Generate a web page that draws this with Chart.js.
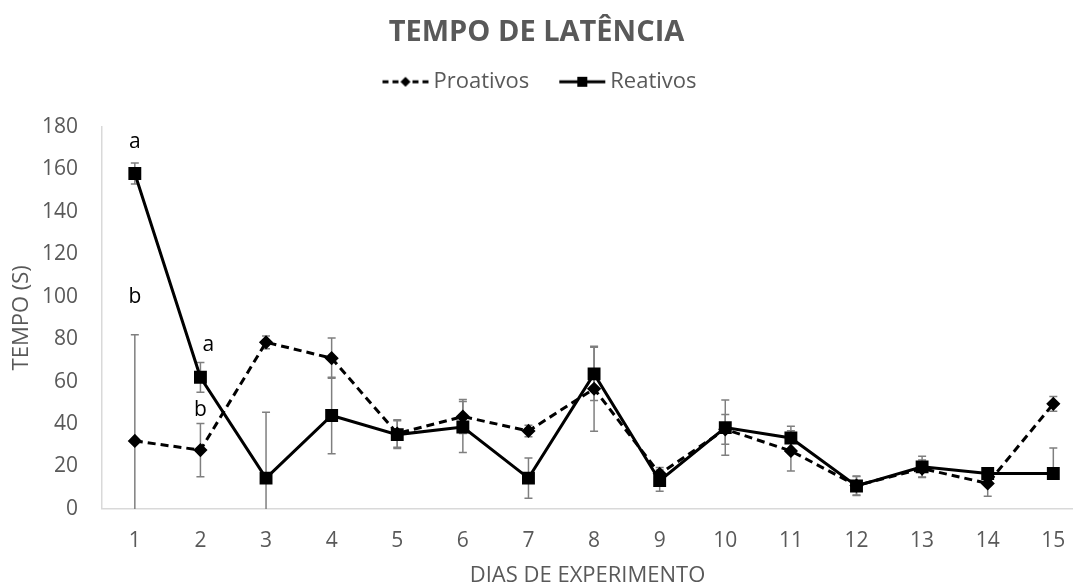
<!DOCTYPE html>
<html lang="pt">
<head>
    <meta charset="UTF-8">
    <title>Tempo de latência</title>
    <script src="https://cdn.jsdelivr.net/npm/chart.js@4.4.1/dist/chart.umd.min.js"></script>
    <style>
        html, body { margin: 0; padding: 0; background: #fff; }
        #wrap { width: 1073px; height: 587px; }
    </style>
</head>
<body>
<div id="wrap"><canvas id="latencia"></canvas></div>
<script>
    // dados
    var dias = [1, 2, 3, 4, 5, 6, 7, 8, 9, 10, 11, 12, 13, 14, 15];
    var proativos = [32, 27.7, 78.5, 71, 35.5, 43.5, 36.7, 56.6, 16.5, 37.5, 27.3, 11, 19, 12, 49.5];
    var proativosErr = [50, 12.5, 3, 9.5, 6.5, 8, 2.7, 20, 3, 7, 9.5, 4.5, 4, 6, 3.5];
    var reativos = [158, 62, 14.5, 44, 35, 38.6, 14.5, 63.6, 13.3, 38.3, 33.4, 10.8, 19.8, 16.7, 16.7];
    var reativosErrUp = [5, 7, 31, 18, 6.5, 12, 9.5, 12.5, 5, 13, 5.5, 4.5, 5, 2, 12];
    var reativosErrDown = [5, 7, 31, 18, 6.5, 12, 9.5, 12.5, 5, 13, 5.5, 4.5, 5, 2, 0];
    var letras = [
        {t: 'a', x: 1, y: 173},
        {t: 'b', x: 1, y: 100},
        {t: 'a', x: 2.12, y: 77},
        {t: 'b', x: 2.0, y: 46.5}
    ];

    var cinza = '#595959';
    var fonte = "'Open Sans', sans-serif";

    function pontos(vals) {
        return vals.map(function (v, i) { return {x: dias[i], y: v}; });
    }

    // ícone da legenda: linha + marcador, deslocado 7px para a direita
    function iconeLegenda(tracejado, forma) {
        var c = document.createElement('canvas');
        c.width = 62; c.height = 16;
        var g = c.getContext('2d');
        g.translate(14, 0);
        g.strokeStyle = '#000';
        g.lineWidth = 3;
        if (tracejado) g.setLineDash([6, 4]);
        g.beginPath(); g.moveTo(0, 8); g.lineTo(46, 8); g.stroke();
        g.fillStyle = '#000';
        if (forma == 'diamond') {
            g.beginPath(); g.moveTo(23, 3); g.lineTo(28, 8); g.lineTo(23, 13); g.lineTo(18, 8); g.closePath(); g.fill();
        } else {
            g.fillRect(18, 3, 10, 10);
        }
        return c;
    }
    var icones = [iconeLegenda(true, 'diamond'), iconeLegenda(false, 'square')];

    // espaço extra abaixo da legenda
    var espacoLegenda = {
        id: 'espacoLegenda',
        beforeInit: function (chart) {
            var orig = chart.legend.fit;
            chart.legend.fit = function () {
                orig.call(this);
                this.height += 24;
            };
        }
    };

    var errosPlugin = {
        id: 'erros',
        beforeDatasetsDraw: function (chart) {
            var ctx = chart.ctx, xs = chart.scales.x, ys = chart.scales.y, a = chart.chartArea;
            var series = [
                {v: proativos, up: proativosErr, down: proativosErr},
                {v: reativos, up: reativosErrUp, down: reativosErrDown}
            ];
            ctx.save();
            ctx.beginPath();
            ctx.rect(a.left, a.top - 20, a.right - a.left, a.bottom - a.top + 20);
            ctx.clip();
            ctx.strokeStyle = '#7f7f7f';
            ctx.lineWidth = 1.5;
            series.forEach(function (s) {
                s.v.forEach(function (v, i) {
                    var px = xs.getPixelForValue(dias[i]);
                    var top = ys.getPixelForValue(v + s.up[i]);
                    var bot = ys.getPixelForValue(v - s.down[i]);
                    ctx.beginPath();
                    ctx.moveTo(px, top); ctx.lineTo(px, bot);
                    if (s.up[i] > 0) { ctx.moveTo(px - 4, top); ctx.lineTo(px + 4, top); }
                    if (s.down[i] > 0) { ctx.moveTo(px - 4, bot); ctx.lineTo(px + 4, bot); }
                    ctx.stroke();
                });
            });
            ctx.restore();
        },
        afterDatasetsDraw: function (chart) {
            var ctx = chart.ctx, xs = chart.scales.x, ys = chart.scales.y;
            ctx.save();
            ctx.fillStyle = '#000';
            ctx.font = '21px ' + fonte;
            ctx.textAlign = 'center';
            ctx.textBaseline = 'middle';
            letras.forEach(function (l) {
                ctx.fillText(l.t, xs.getPixelForValue(l.x), ys.getPixelForValue(l.y));
            });
            ctx.restore();
        }
    };

    new Chart(document.getElementById('latencia'), {
        type: 'line',
        data: {
            datasets: [{
                label: 'Proativos',
                data: pontos(proativos),
                borderColor: '#000',
                backgroundColor: '#000',
                borderWidth: 3,
                borderDash: [8, 5],
                pointStyle: 'rectRot',
                pointRadius: 5,
                pointHoverRadius: 5,
                tension: 0
            }, {
                label: 'Reativos',
                data: pontos(reativos),
                borderColor: '#000',
                backgroundColor: '#000',
                borderWidth: 3,
                pointStyle: 'rect',
                pointRadius: 7,
                pointHoverRadius: 7,
                tension: 0
            }]
        },
        options: {
            responsive: true,
            maintainAspectRatio: false,
            animation: false,
            layout: { autoPadding: false, padding: {left: 0, right: 0, top: 0, bottom: 0} },
            plugins: {
                title: {
                    display: true,
                    text: 'TEMPO DE LATÊNCIA',
                    color: cinza,
                    font: {family: fonte, size: 29, weight: 'bold'},
                    padding: {top: 15, bottom: -3}
                },
                legend: {
                    position: 'top',
                    labels: {
                        usePointStyle: true,
                        pointStyleWidth: 46,
                        color: cinza,
                        font: {family: fonte, size: 22},
                        padding: 24,
                        generateLabels: function (chart) {
                            var items = Chart.defaults.plugins.legend.labels.generateLabels(chart);
                            items.forEach(function (it, i) { it.pointStyle = icones[i]; });
                            return items;
                        }
                    }
                },
                tooltip: {enabled: false}
            },
            scales: {
                x: {
                    type: 'linear',
                    min: 0.5,
                    max: 15.3,
                    afterBuildTicks: function (axis) {
                        axis.ticks = dias.map(function (d) { return {value: d}; });
                    },
                    grid: {display: false, drawTicks: false},
                    border: {display: true, color: '#d9d9d9', width: 1.5},
                    ticks: {color: cinza, font: {family: fonte, size: 21, lineHeight: 3.1}, padding: 0},
                    title: {display: true, text: 'DIAS DE EXPERIMENTO', color: cinza, font: {family: fonte, size: 22, lineHeight: 1}, padding: {top: -9, bottom: 0}}
                },
                y: {
                    min: 0,
                    max: 180,
                    ticks: {stepSize: 20, color: cinza, font: {family: fonte, size: 21}, padding: 24},
                    grid: {display: false, drawTicks: false},
                    border: {display: true, color: '#d9d9d9', width: 1.5},
                    title: {display: true, text: 'TEMPO (S)', color: cinza, font: {family: fonte, size: 22}, padding: {top: 9, bottom: -17.4}}
                }
            }
        },
        plugins: [espacoLegenda, errosPlugin]
    });
</script>
</body>
</html>
